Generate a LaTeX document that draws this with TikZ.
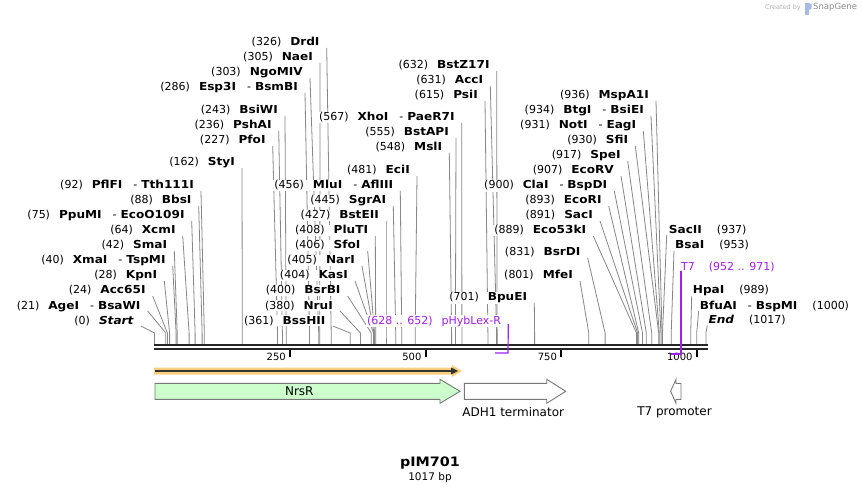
\documentclass[tikz,border=0pt]{standalone}
\usepackage{fontspec}
\setmainfont{DejaVu Sans}[BoldFont={DejaVu Sans Bold},ItalicFont={DejaVu Sans Oblique},BoldItalicFont={DejaVu Sans Bold Oblique},BoldFeatures={FakeStretch=1.1},BoldItalicFeatures={FakeStretch=1.1}]
\usetikzlibrary{backgrounds}
\definecolor{cutgray}{RGB}{135,135,135}
\definecolor{primercol}{RGB}{160,32,240}
\definecolor{nrsgreen}{RGB}{204,255,204}
\definecolor{orfglow}{RGB}{253,206,128}
\definecolor{featgray}{RGB}{120,120,120}
\newcommand{\lsite}[2]{(#1)\hspace{9pt}\textbf{#2}}
\newcommand{\isoz}[1]{\hspace{11pt}-\hspace{4pt}\textbf{#1}}
\newcommand{\rsite}[2]{\textbf{#1}\hspace{15pt}(#2)}

\begin{document}
\begin{tikzpicture}[x=1pt,y=-1pt,
	enz/.style={fill=white,inner sep=1pt,font=\fontsize{11}{13}\selectfont},
	cutline/.style={draw=cutgray,line width=0.8pt},
	axisline/.style={draw=black!85,line width=2.2pt},
	primerline/.style={draw=primercol,line width=1.2pt},
	featbox/.style={draw=featgray,line width=0.9pt},
	featlbl/.style={inner sep=1pt,font=\fontsize{12}{14}\selectfont},
	ticklbl/.style={inner sep=1pt,font=\fontsize{10}{12}\selectfont}]
	\useasboundingbox (0,0) rectangle (862,494);
	% watermark
	\node[inner sep=0pt,anchor=east,text=black!30,font=\fontsize{6.5}{8}\selectfont] (made) at (801,7.5) {Created by};
	\fill[cyan!45!blue!35] (805,3) rectangle (808.5,15);
	\fill[cyan!45!blue!35] (808.5,3) -- (811.5,4) -- (811.5,9) -- (808.5,10) -- cycle;
	\node[inner sep=0pt,anchor=west,text=black!45,font=\fontsize{8.5}{10}\selectfont] (snap) at (813,7.5) {SnapGene};
	% sequence axis
	\draw[axisline] (154,345)--(707.7,345);
	\draw[axisline] (154,349)--(707.7,349);
	\draw[line width=2pt] (290,350)--(290,357);
	\draw[line width=2pt] (425.6,350)--(425.6,357);
	\draw[line width=2pt] (561.1,350)--(561.1,357);
	\draw[line width=2pt] (696.7,350)--(696.7,357);
	\node[ticklbl,anchor=east] (t250) at (287,357) {250};
	\node[ticklbl,anchor=east] (t500) at (422.6,357) {500};
	\node[ticklbl,anchor=east] (t750) at (558.1,357) {750};
	\node[ticklbl,anchor=east] (t1000) at (693.7,357) {1000};
	% left group
	\node[enz,anchor=base east] (pflfi) at (195,189) {\lsite{92}{PflFI}\isoz{Tth111I}};
	\node[enz,anchor=base east] (bbsi) at (192.7,204) {\lsite{88}{BbsI}};
	\node[enz,anchor=base east] (ppumi) at (185.7,219) {\lsite{75}{PpuMI}\isoz{EcoO109I}};
	\node[enz,anchor=base east] (xcmi) at (176.7,234) {\lsite{64}{XcmI}};
	\node[enz,anchor=base east] (smai) at (168.3,249) {\lsite{42}{SmaI}};
	\node[enz,anchor=base east] (xmai) at (166.7,264) {\lsite{40}{XmaI}\isoz{TspMI}};
	\node[enz,anchor=base east] (kpni) at (158.3,279) {\lsite{28}{KpnI}};
	\node[enz,anchor=base east] (acc65i) at (146.7,294) {\lsite{24}{Acc65I}};
	\node[enz,anchor=base east] (agei) at (141.7,309) {\lsite{21}{AgeI}\isoz{BsaWI}};
	\node[enz,anchor=base east] (start) at (135,324) {(0)\hspace{9pt}\textbf{\itshape Start}};
	% upper left group
	\node[enz,anchor=base east] (styi) at (236,166) {\lsite{162}{StyI}};
	\node[enz,anchor=base east] (pfoi) at (266.7,144) {\lsite{227}{PfoI}};
	\node[enz,anchor=base east] (pshai) at (272.7,129) {\lsite{236}{PshAI}};
	\node[enz,anchor=base east] (bsiwi) at (279,114) {\lsite{243}{BsiWI}};
	\node[enz,anchor=base east] (esp3i) at (299,91) {\lsite{286}{Esp3I}\isoz{BsmBI}};
	\node[enz,anchor=base east] (ngomiv) at (304,76) {\lsite{303}{NgoMIV}};
	\node[enz,anchor=base east] (naei) at (314,61) {\lsite{305}{NaeI}};
	\node[enz,anchor=base east] (drdi) at (320.7,46) {\lsite{326}{DrdI}};
	% lower middle group
	\node[enz,anchor=base east] (mlui) at (394.3,189) {\lsite{456}{MluI}\isoz{AflIII}};
	\node[enz,anchor=base east] (sgrai) at (387.3,204) {\lsite{445}{SgrAI}};
	\node[enz,anchor=base east] (bsteii) at (380,219) {\lsite{427}{BstEII}};
	\node[enz,anchor=base east] (pluti) at (369.3,234) {\lsite{408}{PluTI}};
	\node[enz,anchor=base east] (sfoi) at (361.7,249) {\lsite{406}{SfoI}};
	\node[enz,anchor=base east] (nari) at (356,264) {\lsite{405}{NarI}};
	\node[enz,anchor=base east] (kasi) at (349,279) {\lsite{404}{KasI}};
	\node[enz,anchor=base east] (bsrbi) at (341.7,294) {\lsite{400}{BsrBI}};
	\node[enz,anchor=base east] (nrui) at (334,309) {\lsite{380}{NruI}};
	\node[enz,anchor=base east] (bsshii) at (326.7,324) {\lsite{361}{BssHII}};
	% upper middle group
	\node[enz,anchor=base east] (ecii) at (411,174) {\lsite{481}{EciI}};
	\node[enz,anchor=base east] (msli) at (443.3,151) {\lsite{548}{MslI}};
	\node[enz,anchor=base east] (bstapi) at (450,136) {\lsite{555}{BstAPI}};
	\node[enz,anchor=base east] (xhoi) at (455.7,121) {\lsite{567}{XhoI}\isoz{PaeR7I}};
	\node[enz,anchor=base east] (psii) at (479,99) {\lsite{615}{PsiI}};
	\node[enz,anchor=base east] (acci) at (484.3,84) {\lsite{631}{AccI}};
	\node[enz,anchor=base east] (bstz) at (490.7,69) {\lsite{632}{BstZ17I}};
	\node[enz,anchor=base east] (bpuei) at (528.3,301) {\lsite{701}{BpuEI}};
	% right middle group
	\node[enz,anchor=base east] (mfei) at (574,279) {\lsite{801}{MfeI}};
	\node[enz,anchor=base east] (bsrdi) at (581.7,256) {\lsite{831}{BsrDI}};
	\node[enz,anchor=base east] (eco53ki) at (587.3,234) {\lsite{889}{Eco53kI}};
	\node[enz,anchor=base east] (saci) at (594,219) {\lsite{891}{SacI}};
	\node[enz,anchor=base east] (ecori) at (602.7,204) {\lsite{893}{EcoRI}};
	\node[enz,anchor=base east] (clai) at (608.3,189) {\lsite{900}{ClaI}\isoz{BspDI}};
	\node[enz,anchor=base east] (ecorv) at (615,174) {\lsite{907}{EcoRV}};
	\node[enz,anchor=base east] (spei) at (621.7,159) {\lsite{917}{SpeI}};
	\node[enz,anchor=base east] (sfii) at (629.3,144) {\lsite{930}{SfiI}};
	\node[enz,anchor=base east] (noti) at (637.3,129) {\lsite{931}{NotI}\isoz{EagI}};
	\node[enz,anchor=base east] (btgi) at (645,114) {\lsite{934}{BtgI}\isoz{BsiEI}};
	\node[enz,anchor=base east] (mspa1i) at (650,99) {\lsite{936}{MspA1I}};
	% right group
	\node[enz,anchor=base west] (sacii) at (667.7,234) {\rsite{SacII}{937}};
	\node[enz,anchor=base west] (bsai) at (674,249) {\rsite{BsaI}{953}};
	\node[enz,anchor=base west] (hpai) at (691.7,294) {\rsite{HpaI}{989}};
	\node[enz,anchor=base west] (bfuai) at (698.7,309) {\textbf{BfuAI}\isoz{BspMI}\hspace{15pt}(1000)};
	\node[enz,anchor=base west] (fin) at (707.3,323.3) {\textbf{\itshape End}\hspace{15pt}(1017)};
	% primers
	\node[enz,anchor=base east,text=primercol] (phyb) at (502.3,324) {(628 .. 652)\hspace{9pt}pHybLex-R};
	\node[enz,anchor=base west,text=primercol] (t7p) at (680,271) {T7\hspace{14pt}(952 .. 971)};
	\draw[primerline] ([xshift=6pt]phyb.base east)--(508,353)--(495,353);
	\draw[primerline] ([xshift=1pt]t7p.base west)--(681,354)--(670.6,354);
	\begin{scope}[on background layer]
		\fill[white] (0,0) rectangle (862,494);
		\draw[cutline] ([shift={(6,2)}]pflfi.base east)--(204.3,333)--(204.3,344);
		\draw[cutline] ([shift={(6,2)}]bbsi.base east)--(202.1,333)--(202.1,344);
		\draw[cutline] ([shift={(6,2)}]ppumi.base east)--(195.1,333)--(195.1,344);
		\draw[cutline] ([shift={(6,2)}]xcmi.base east)--(189.1,333)--(189.1,344);
		\draw[cutline] ([shift={(6,2)}]smai.base east)--(177.2,333)--(177.2,344);
		\draw[cutline] ([shift={(6,2)}]xmai.base east)--(176.1,333)--(176.1,344);
		\draw[cutline] ([shift={(6,2)}]kpni.base east)--(169.6,333)--(169.6,344);
		\draw[cutline] ([shift={(6,2)}]acc65i.base east)--(167.4,333)--(167.4,344);
		\draw[cutline] ([shift={(6,2)}]agei.base east)--(165.8,333)--(165.8,344);
		\draw[cutline] ([shift={(6,2)}]start.base east)--(154.4,333)--(154.4,344);
		\draw[cutline] ([shift={(6,2)}]styi.base east)--(242.3,333)--(242.3,344);
		\draw[cutline] ([shift={(6,2)}]pfoi.base east)--(277.5,333)--(277.5,344);
		\draw[cutline] ([shift={(6,2)}]pshai.base east)--(282.4,333)--(282.4,344);
		\draw[cutline] ([shift={(6,2)}]bsiwi.base east)--(286.2,333)--(286.2,344);
		\draw[cutline] ([shift={(6,2)}]esp3i.base east)--(309.5,333)--(309.5,344);
		\draw[cutline] ([shift={(6,2)}]ngomiv.base east)--(318.7,333)--(318.7,344);
		\draw[cutline] ([shift={(6,2)}]naei.base east)--(319.8,333)--(319.8,344);
		\draw[cutline] ([shift={(6,2)}]drdi.base east)--(331.2,333)--(331.2,344);
		\draw[cutline] ([shift={(6,2)}]mlui.base east)--(401.7,333)--(401.7,344);
		\draw[cutline] ([shift={(6,2)}]sgrai.base east)--(395.7,333)--(395.7,344);
		\draw[cutline] ([shift={(6,2)}]bsteii.base east)--(386.0,333)--(386.0,344);
		\draw[cutline] ([shift={(6,2)}]pluti.base east)--(375.7,333)--(375.7,344);
		\draw[cutline] ([shift={(6,2)}]sfoi.base east)--(374.6,333)--(374.6,344);
		\draw[cutline] ([shift={(6,2)}]nari.base east)--(374.0,333)--(374.0,344);
		\draw[cutline] ([shift={(6,2)}]kasi.base east)--(373.5,333)--(373.5,344);
		\draw[cutline] ([shift={(6,2)}]bsrbi.base east)--(371.3,333)--(371.3,344);
		\draw[cutline] ([shift={(6,2)}]nrui.base east)--(360.5,333)--(360.5,344);
		\draw[cutline] ([shift={(6,2)}]bsshii.base east)--(350.2,333)--(350.2,344);
		\draw[cutline] ([shift={(6,2)}]ecii.base east)--(415.2,333)--(415.2,344);
		\draw[cutline] ([shift={(6,2)}]msli.base east)--(451.6,333)--(451.6,344);
		\draw[cutline] ([shift={(6,2)}]bstapi.base east)--(455.4,333)--(455.4,344);
		\draw[cutline] ([shift={(6,2)}]xhoi.base east)--(461.9,333)--(461.9,344);
		\draw[cutline] ([shift={(6,2)}]psii.base east)--(487.9,333)--(487.9,344);
		\draw[cutline] ([shift={(6,2)}]acci.base east)--(496.6,333)--(496.6,344);
		\draw[cutline] ([shift={(6,2)}]bstz.base east)--(497.1,333)--(497.1,344);
		\draw[cutline] ([shift={(6,2)}]bpuei.base east)--(534.6,333)--(534.6,344);
		\draw[cutline] ([shift={(6,2)}]mfei.base east)--(588.8,333)--(588.8,344);
		\draw[cutline] ([shift={(6,2)}]bsrdi.base east)--(605.1,333)--(605.1,344);
		\draw[cutline] ([shift={(6,2)}]eco53ki.base east)--(636.5,333)--(636.5,344);
		\draw[cutline] ([shift={(6,2)}]saci.base east)--(637.6,333)--(637.6,344);
		\draw[cutline] ([shift={(6,2)}]ecori.base east)--(638.7,333)--(638.7,344);
		\draw[cutline] ([shift={(6,2)}]clai.base east)--(642.5,333)--(642.5,344);
		\draw[cutline] ([shift={(6,2)}]ecorv.base east)--(646.3,333)--(646.3,344);
		\draw[cutline] ([shift={(6,2)}]spei.base east)--(651.7,333)--(651.7,344);
		\draw[cutline] ([shift={(6,2)}]sfii.base east)--(658.7,333)--(658.7,344);
		\draw[cutline] ([shift={(6,2)}]noti.base east)--(659.3,333)--(659.3,344);
		\draw[cutline] ([shift={(6,2)}]btgi.base east)--(660.9,333)--(660.9,344);
		\draw[cutline] ([shift={(6,2)}]mspa1i.base east)--(662.0,333)--(662.0,344);
		\draw[cutline] ([shift={(-1,1)}]sacii.base west)--(662.5,333)--(662.5,344);
		\draw[cutline] ([shift={(0,2)}]bsai.base west)--(671.2,333)--(671.2,344);
		\draw[cutline] ([shift={(0,2)}]hpai.base west)--(690.7,333)--(690.7,344);
		\draw[cutline] ([shift={(0,2)}]bfuai.base west)--(696.7,333)--(696.7,344);
		\draw[cutline] ([shift={(0,2)}]fin.base west)--(705.9,333)--(705.9,344);
	\end{scope}
	% open reading frame
	\fill[orfglow] (154,367.5)--(452,367.5)--(452,365)--(462,371)--(452,377)--(452,374.5)--(154,374.5)--cycle;
	\draw[black!80,line width=1.6pt] (155,371)--(452,371);
	\fill[black!80] (451,367.5)--(458,371)--(451,374.5)--cycle;
	% features
	\draw[featbox,fill=nrsgreen] (155,383.3)--(440,383.3)--(440,379.3)--(460,391.3)--(440,403.3)--(440,399.3)--(155,399.3)--cycle;
	\node[featlbl] (nrsr) at (299.3,391.3) {NrsR};
	\draw[featbox,fill=white] (464.3,383.3)--(546.7,383.3)--(546.7,379.3)--(565.7,391.3)--(546.7,403.3)--(546.7,399.3)--(464.3,399.3)--cycle;
	\node[featlbl] (adh1) at (513.2,412) {ADH1 terminator};
	\draw[featbox,fill=white] (670.6,391.3)--(676,379.3)--(676,383.3)--(681,383.3)--(681,399.3)--(676,399.3)--(676,403.3)--cycle;
	\node[featlbl] (t7prom) at (674.5,412) {T7 promoter};
	% title
	\node[inner sep=1pt,font=\fontsize{13}{15}\selectfont\bfseries] (title) at (430,463.5) {pIM701};
	\node[inner sep=1pt,font=\fontsize{10.5}{12}\selectfont] (size) at (430,477.5) {1017 bp};
\end{tikzpicture}
\end{document}
